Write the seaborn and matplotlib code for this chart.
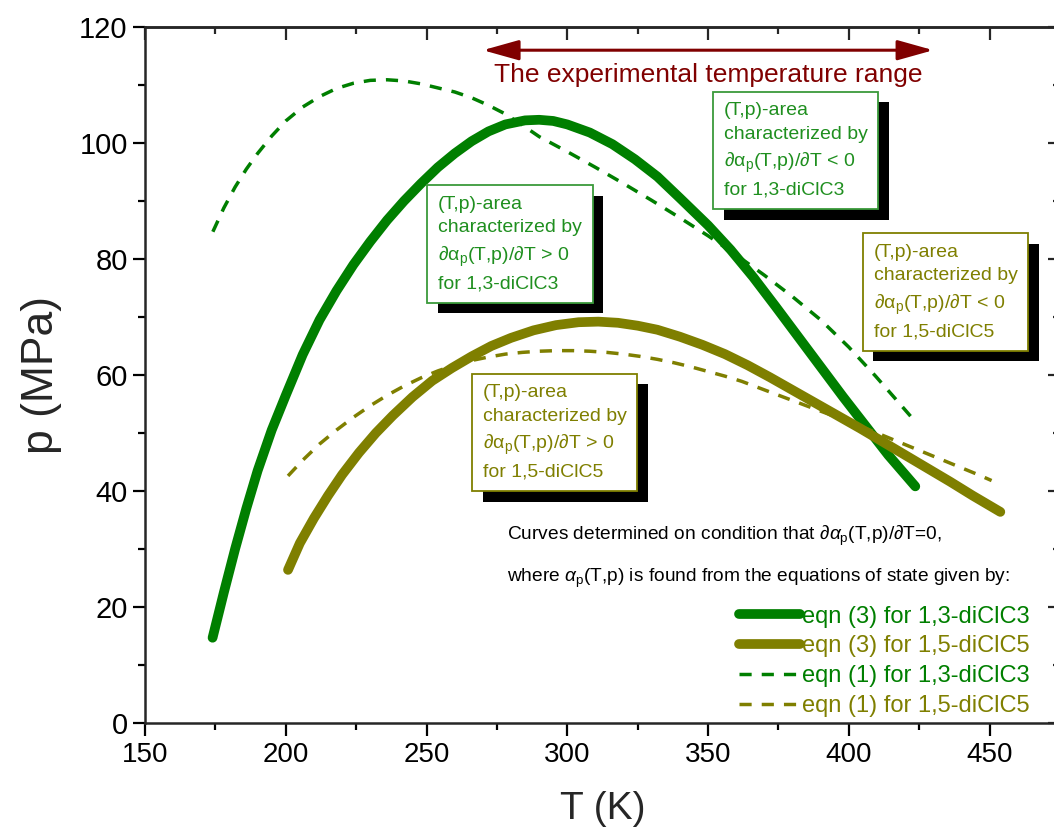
import numpy as np
import pandas as pd
import matplotlib
matplotlib.use("Agg")
import matplotlib.pyplot as plt
import matplotlib.patheffects as pe
from matplotlib.ticker import MultipleLocator
import seaborn as sns

sns.set_style("ticks")
plt.rcParams["font.family"] = ["Liberation Sans", "DejaVu Sans"]
plt.rcParams["mathtext.fontset"] = "custom"
plt.rcParams["mathtext.rm"] = "Liberation Sans"
plt.rcParams["mathtext.it"] = "Liberation Sans:italic"


#----------------------------------------------------------------------
# curves: T (K), p (MPa)
T_eq3_c3 = [174, 178, 182, 186, 190, 195, 200, 206, 212, 218, 224, 230, 236, 242, 248, 254,
            260, 266, 272, 278, 285, 290, 295, 300, 308, 316, 324, 332, 340, 350, 358, 366,
            374, 382, 390, 398, 406, 414, 423.6]
p_eq3_c3 = [14.7, 22.5, 30, 37, 43.5, 50.5, 56.5, 63.5, 69.5, 74.5, 79, 83, 86.7, 90, 93, 95.8,
            98.2, 100.3, 102, 103.2, 103.9, 104, 103.8, 103.2, 101.8, 99.8, 97.2, 94.2, 90.5, 85.8, 81.6, 76.9,
            71.8, 66.6, 61.4, 56.2, 51.2, 46.2, 40.8]

T_eq3_c5 = [200.8, 205, 210, 215, 220, 226, 232, 238, 245, 252, 259, 266, 273, 280, 288, 296,
            304, 311, 318, 325, 332, 340, 348, 356, 364, 372, 380, 388, 396, 404, 412, 420,
            428, 436, 444, 453.8]
p_eq3_c5 = [26.4, 31, 35.3, 39.2, 42.8, 46.6, 50, 53, 56.2, 59, 61.2, 63.2, 65, 66.4, 67.7, 68.6,
            69.1, 69.2, 69.0, 68.5, 67.8, 66.6, 65.2, 63.6, 61.7, 59.6, 57.4, 55.2, 53.0, 50.8, 48.5, 46.2,
            43.9, 41.6, 39.2, 36.4]

T_eq1_c3 = [174.1, 178, 182, 186, 190, 195, 200, 206, 212, 218, 224, 230, 236, 242, 248, 254,
            260, 266, 272, 278, 284, 290, 300, 310, 320, 330, 340, 350, 360, 370, 380, 390,
            400, 409.5, 416, 423]
p_eq1_c3 = [84.7, 88.8, 92.4, 95.5, 98.2, 101.2, 103.8, 106.2, 108, 109.4, 110.3, 110.8, 110.9, 110.7, 110.2, 109.5,
            108.8, 107.8, 106.5, 105, 103.1, 101.1, 98.5, 95.8, 93, 90.1, 87.1, 84, 80.7, 77.2, 73.5, 69.5,
            64.8, 59.8, 56.2, 52.3]

T_eq1_c5 = [200.8, 206, 212, 218, 224, 230, 236, 242, 248, 254, 260, 266, 272, 278, 284, 290,
            296, 302, 308, 314, 320, 326, 332, 338, 344, 350, 356, 362, 368, 374, 380, 386,
            392, 398, 404, 410, 416, 422, 428, 434, 440, 446, 450.7]
p_eq1_c5 = [42.6, 45.3, 48.1, 50.5, 52.7, 54.7, 56.5, 58.1, 59.5, 60.7, 61.7, 62.5, 63.1, 63.6, 63.9, 64.1,
            64.2, 64.2, 64.1, 63.9, 63.6, 63.2, 62.7, 62.1, 61.4, 60.6, 59.8, 58.9, 57.8, 56.7, 55.6, 54.5,
            53.4, 52.3, 51.2, 50.0, 48.8, 47.6, 46.4, 45.2, 44.0, 42.8, 41.8]

labels = ["eqn (3) for 1,3-diClC3", "eqn (3) for 1,5-diClC5",
          "eqn (1) for 1,3-diClC3", "eqn (1) for 1,5-diClC5"]

exp_range = [270, 430]

green = "#007f00"
olive = "#7f7f00"
green_txt = "#1f8f1f"
dark_red = "#800000"


#----------------------------------------------------------------------
fig = plt.figure(figsize=(10.54, 8.34), dpi=100)
ax = fig.add_axes([145 / 1054, 111 / 834, 915 / 1054, 696 / 834])

curves = [
    (T_eq3_c3, p_eq3_c3, green, "-", 7),
    (T_eq3_c5, p_eq3_c5, olive, "-", 7),
    (T_eq1_c3, p_eq1_c3, green, (0, (3.5, 2.9)), 2.5),
    (T_eq1_c5, p_eq1_c5, olive, (0, (3.5, 2.9)), 2.5),
]
for (T, p, col, ls, lw), lab in zip(curves, labels):
    df = pd.DataFrame({"T": T, "p": p})
    sns.lineplot(data=df, x="T", y="p", ax=ax, color=col, linestyle=ls,
                 linewidth=lw, label=lab, solid_capstyle="round",
                 solid_joinstyle="round", dash_capstyle="butt")

ax.set_xlim(150, 475)
ax.set_ylim(0, 120)
ax.set_xticks([150, 200, 250, 300, 350, 400, 450])
ax.xaxis.set_minor_locator(MultipleLocator(25))
ax.yaxis.set_major_locator(MultipleLocator(20))
ax.yaxis.set_minor_locator(MultipleLocator(10))
ax.tick_params(which="both", direction="out", width=1.6, colors="black")
ax.tick_params(axis="x", labelsize=20, pad=5)
ax.tick_params(axis="y", labelsize=21)
ax.tick_params(which="major", length=9)
ax.tick_params(which="minor", length=5)
for s in ax.spines.values():
    s.set_linewidth(1.8)
    s.set_visible(True)
ax.set_xlabel("T (K)", fontsize=28, labelpad=16)
ax.set_ylabel("p (MPa)", fontsize=32, labelpad=12)

top = ax.secondary_xaxis("top")
right = ax.secondary_yaxis("right")
top.set_xticks([150, 200, 250, 300, 350, 400, 450])
top.xaxis.set_minor_locator(MultipleLocator(25))
right.yaxis.set_major_locator(MultipleLocator(20))
right.yaxis.set_minor_locator(MultipleLocator(10))
for sec in (top, right):
    sec.tick_params(which="both", direction="in", width=1.6, labeltop=False, labelright=False)
    sec.tick_params(which="major", length=9)
    sec.tick_params(which="minor", length=5)
    sec.spines[:].set_linewidth(1.8)


#----------------------------------------------------------------------
# experimental range arrow
ax.annotate("", xy=(exp_range[0], 116), xytext=(exp_range[1], 116),
            arrowprops=dict(arrowstyle="<|-|>,head_length=1.0,head_width=0.28", color=dark_red,
                            lw=2.2, mutation_scale=22, shrinkA=0, shrinkB=0))
ax.text(sum(exp_range) / 2, 111.8, "The experimental temperature range",
        color=dark_red, fontsize=19, ha="center", va="center")

# (T,p)-area boxes
boxes = [
    (254.1, 90.9, "(T,p)-area\ncharacterized by\n∂α$_\\mathrm{p}$(T,p)/∂T > 0\nfor 1,3-diClC3", green_txt, "#3a9a3a"),
    (355.6, 107.0, "(T,p)-area\ncharacterized by\n∂α$_\\mathrm{p}$(T,p)/∂T < 0\nfor 1,3-diClC3", green_txt, "#3a9a3a"),
    (408.8, 82.6, "(T,p)-area\ncharacterized by\n∂α$_\\mathrm{p}$(T,p)/∂T < 0\nfor 1,5-diClC5", olive, olive),
    (270.0, 58.4, "(T,p)-area\ncharacterized by\n∂α$_\\mathrm{p}$(T,p)/∂T > 0\nfor 1,5-diClC5", olive, olive),
]
for x, y, txt, tc, ec in boxes:
    t = ax.text(x, y, txt, color=tc, fontsize=14, ha="left", va="top",
                linespacing=1.5, zorder=5,
                bbox=dict(boxstyle="square,pad=0.55", fc="white", ec=ec, lw=1.3))
    t.get_bbox_patch().set_path_effects(
        [pe.SimplePatchShadow(offset=(7.5, -7.5), shadow_rgbFace="black", alpha=1.0), pe.Normal()])

ax.text(278.7, 32.2, r"Curves determined on condition that $\partial\alpha_\mathrm{p}$(T,p)/$\partial$T=0,",
        fontsize=13.8, ha="left", va="center", color="black")
ax.text(278.7, 24.9, r"where $\alpha_\mathrm{p}$(T,p) is found from the equations of state given by:",
        fontsize=13.8, ha="left", va="center", color="black")

leg = ax.legend(loc="lower right", bbox_to_anchor=(468.5, -1.0), bbox_transform=ax.transData,
                frameon=False, fontsize=17, handlelength=2.6, handletextpad=0.1,
                labelspacing=0.33, borderpad=0, labelcolor="linecolor")

fig.savefig("out.png", dpi=100)
